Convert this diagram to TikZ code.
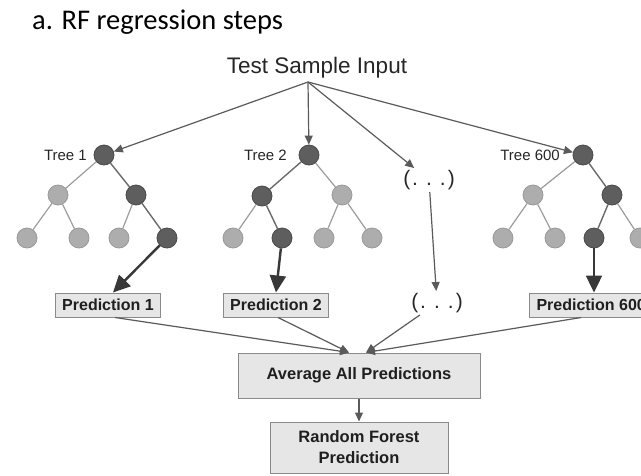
\documentclass[tikz,border=0pt]{standalone}
\usepackage{fontspec}
\setmainfont{Liberation Sans}
\newfontfamily\titlefont{Carlito}
\usetikzlibrary{arrows.meta,calc}

\definecolor{nodedark}{HTML}{5E5E5E}
\definecolor{nodedarkline}{HTML}{4A4A4A}
\definecolor{nodelight}{HTML}{ADADAD}
\definecolor{nodelightline}{HTML}{999999}
\definecolor{edgelight}{HTML}{9C9C9C}
\definecolor{edgedark}{HTML}{6A6A6A}
\definecolor{feedgray}{HTML}{5A5A5A}
\definecolor{pickgray}{HTML}{383838}
\definecolor{boxfill}{HTML}{E6E6E6}
\definecolor{boxline}{HTML}{8A8A8A}
\definecolor{labeltext}{HTML}{262626}

\begin{document}
\begin{tikzpicture}[x=1pt,y=-1pt,
  dk/.style={circle, fill=nodedark, draw=nodedarkline, line width=0.8pt, minimum size=20pt, inner sep=0pt},
  lt/.style={circle, fill=nodelight, draw=nodelightline, line width=0.8pt, minimum size=20pt, inner sep=0pt},
  branch/.style={draw=edgelight, line width=1.2pt},
  branchdk/.style={draw=edgedark, line width=1.4pt},
  feed/.style={draw=feedgray, line width=1.2pt, -{Triangle[length=9pt,width=8pt]}},
  pick/.style={draw=pickgray, line width=2.4pt, -{Triangle[length=17pt,width=16pt]}},
  treelabel/.style={anchor=base east, inner sep=0pt, text=labeltext, font=\fontsize{15}{18}\selectfont},
  dots/.style={inner sep=2pt, text=labeltext, font=\fontsize{21}{25}\selectfont},
  predbox/.style={draw=boxline, fill=boxfill, line width=1pt, inner xsep=7pt, inner ysep=0pt,
    minimum height=24pt, text=black!88, font=\bfseries\fontsize{16}{19}\selectfont},
  bigbox/.style={draw=boxline, fill=boxfill, line width=1pt, align=center, inner sep=0pt,
    text=black!88, font=\bfseries\fontsize{16.5}{21}\selectfont}
]
\useasboundingbox (0,0) rectangle (641,475);
\clip (0,0) rectangle (641,475);

% heading and input
\node[anchor=base west, inner sep=0pt, font=\titlefont\fontsize{28.5}{33}\selectfont] (title) at (32,29) {a. RF regression steps};
\node[anchor=base, inner sep=0pt, text=labeltext, font=\fontsize{22.5}{27}\selectfont] (input) at (317,73) {Test Sample Input};
\coordinate (src) at (308,82);

% tree 1
\node[dk] (t1r) at (104,155) {};
\node[lt] (t1a) at (58,195) {};
\node[dk] (t1b) at (136,195) {};
\node[lt] (t1a1) at (27,238) {};
\node[lt] (t1a2) at (79,238) {};
\node[lt] (t1b1) at (119,238) {};
\node[dk] (t1b2) at (167,238) {};
\draw[branch] (t1r) -- (t1a);
\draw[branchdk] (t1r) -- (t1b);
\draw[branch] (t1a) -- (t1a1);
\draw[branch] (t1a) -- (t1a2);
\draw[branch] (t1b) -- (t1b1);
\draw[branchdk] (t1b) -- (t1b2);
\node[treelabel] (lab1) at (87,160.5) {Tree 1};

% tree 2
\node[dk] (t2r) at (309,155) {};
\node[dk] (t2a) at (262,196) {};
\node[lt] (t2b) at (342,195) {};
\node[lt] (t2a1) at (233,238) {};
\node[dk] (t2a2) at (282,238) {};
\node[lt] (t2b1) at (324,238) {};
\node[lt] (t2b2) at (372,238) {};
\draw[branchdk] (t2r) -- (t2a);
\draw[branch] (t2r) -- (t2b);
\draw[branch] (t2a) -- (t2a1);
\draw[branchdk] (t2a) -- (t2a2);
\draw[branch] (t2b) -- (t2b1);
\draw[branch] (t2b) -- (t2b2);
\node[treelabel] (lab2) at (287,160.5) {Tree 2};

% tree 600
\node[dk] (t6r) at (583,155) {};
\node[lt] (t6a) at (533,195) {};
\node[dk] (t6b) at (612,195) {};
\node[lt] (t6a1) at (503,238) {};
\node[lt] (t6a2) at (555,238) {};
\node[dk] (t6b1) at (594,238) {};
\node[lt] (t6b2) at (640,238) {};
\draw[branch] (t6r) -- (t6a);
\draw[branchdk] (t6r) -- (t6b);
\draw[branch] (t6a) -- (t6a1);
\draw[branch] (t6a) -- (t6a2);
\draw[branchdk] (t6b) -- (t6b1);
\draw[branch] (t6b) -- (t6b2);
\node[treelabel] (lab6) at (560,160.5) {Tree 600};

% elided trees
\node[dots] (dotsA) at (429,180) {(\hspace{2pt}.\hspace{8pt}.\hspace{8pt}.\hspace{2pt})};
\node[dots] (dotsB) at (437,303) {(\hspace{2pt}.\hspace{8pt}.\hspace{8pt}.\hspace{2pt})};

% per-tree predictions
\node[predbox] (p1) at (108,305) {Prediction 1};
\node[predbox] (p2) at (276,305) {Prediction 2};
\node[predbox, anchor=west] (p6) at (529,305) {Prediction 600};

% aggregation
\node[bigbox, minimum width=242pt, minimum height=45pt] (avg) at (359,375.5) {Average All Predictions};
\node[bigbox, minimum width=178pt, minimum height=51pt] (rf) at (359,447.5) {Random Forest\\Prediction};

% input fans out to the trees
\draw[feed] (src) -- (t1r);
\draw[feed] (src) -- (t2r);
\draw[feed] (src) -- (dotsA);
\draw[feed] (src) -- (t6r);
\draw[feed] (dotsA) -- (dotsB);

% chosen leaves give predictions
\draw[pick] (t1b2) -- ([xshift=5pt]p1.north);
\draw[pick] (t2a2) -- (p2.north);
\draw[pick] (t6b1) -- (t6b1 |- p6.north);

% predictions are averaged
\draw[feed] ([xshift=7pt]p1.south) -- ([xshift=-10pt]avg.north);
\draw[feed] ([xshift=2pt]p2.south) -- ([xshift=-10pt]avg.north);
\draw[feed] (dotsB) -- ([xshift=7pt]avg.north);
\draw[feed] ([xshift=-10pt]p6.south) -- ([xshift=7pt]avg.north);
\draw[feed] (avg) -- (rf);
\end{tikzpicture}
\end{document}
